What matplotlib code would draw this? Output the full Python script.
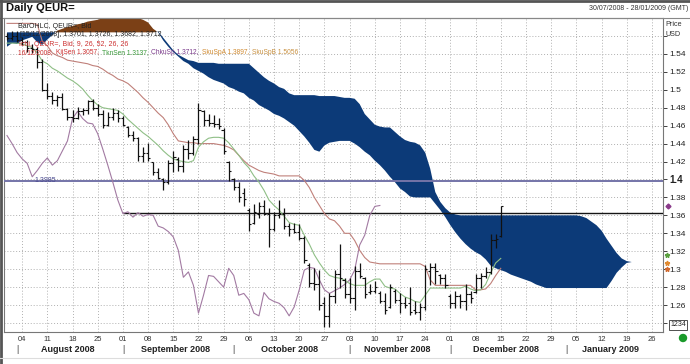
import numpy as np
import pandas as pd
import matplotlib
matplotlib.use("Agg")
import matplotlib.pyplot as plt
from matplotlib.lines import Line2D
from matplotlib.patches import Ellipse

plt.rcParams['font.family'] = ['Liberation Sans', 'DejaVu Sans']

# ---------------- data ----------------
dates = pd.bdate_range('2008-07-30', periods=135)

opens = [1.560, 1.558, 1.560, 1.555, 1.553, 1.547, 1.546, 1.531, 1.500, 1.493,
         1.489, 1.492, 1.479, 1.470, 1.468, 1.476, 1.477, 1.487, 1.480, 1.473,
         1.461, 1.470, 1.474, 1.468, 1.459, 1.450, 1.446, 1.426, 1.430, 1.419,
         1.408, 1.400, 1.397, 1.418, 1.423, 1.415, 1.434, 1.430, 1.445, 1.476,
         1.466, 1.463, 1.462, 1.455, 1.420, 1.400, 1.392, 1.385, 1.366, 1.352,
         1.362, 1.370, 1.362, 1.345, 1.360, 1.362, 1.348, 1.345, 1.342, 1.335,
         1.305, 1.285, 1.283, 1.262, 1.248, 1.270, 1.295, 1.288, 1.272, 1.268,
         1.298, 1.290, 1.275, 1.276, 1.274, 1.265, 1.258, 1.276, 1.266, 1.262,
         1.262, 1.255, 1.252, 1.258, 1.298, 1.302, 1.293, 1.290, 1.270, 1.262,
         1.270, 1.265, 1.272, 1.275, 1.290, 1.292, 1.297, 1.332, 1.337]
highs = [1.563, 1.566, 1.565, 1.559, 1.556, 1.551, 1.548, 1.534, 1.507, 1.497,
         1.494, 1.496, 1.480, 1.478, 1.481, 1.480, 1.489, 1.490, 1.484, 1.477,
         1.475, 1.480, 1.478, 1.471, 1.460, 1.454, 1.447, 1.436, 1.441, 1.420,
         1.413, 1.402, 1.422, 1.432, 1.425, 1.438, 1.444, 1.448, 1.485, 1.478,
         1.473, 1.472, 1.468, 1.457, 1.421, 1.402, 1.397, 1.390, 1.368, 1.373,
         1.375, 1.377, 1.368, 1.364, 1.377, 1.368, 1.351, 1.351, 1.350, 1.337,
         1.307, 1.301, 1.299, 1.269, 1.273, 1.299, 1.328, 1.290, 1.290, 1.304,
         1.307, 1.291, 1.283, 1.287, 1.276, 1.273, 1.284, 1.278, 1.273, 1.269,
         1.280, 1.265, 1.262, 1.305, 1.307, 1.307, 1.295, 1.295, 1.272, 1.276,
         1.272, 1.284, 1.276, 1.295, 1.296, 1.302, 1.339, 1.339, 1.371]
lows = [1.555, 1.555, 1.553, 1.550, 1.542, 1.541, 1.524, 1.499, 1.490, 1.484,
        1.482, 1.477, 1.466, 1.464, 1.467, 1.472, 1.473, 1.478, 1.471, 1.457,
        1.460, 1.466, 1.464, 1.460, 1.447, 1.443, 1.421, 1.420, 1.421, 1.405,
        1.400, 1.388, 1.395, 1.408, 1.410, 1.408, 1.423, 1.427, 1.440, 1.460,
        1.460, 1.458, 1.456, 1.428, 1.398, 1.388, 1.375, 1.371, 1.343, 1.350,
        1.357, 1.360, 1.325, 1.343, 1.357, 1.345, 1.337, 1.340, 1.332, 1.307,
        1.280, 1.277, 1.254, 1.236, 1.236, 1.262, 1.279, 1.268, 1.262, 1.254,
        1.290, 1.268, 1.272, 1.273, 1.262, 1.250, 1.257, 1.262, 1.251, 1.257,
        1.249, 1.250, 1.243, 1.255, 1.282, 1.284, 1.284, 1.279, 1.257, 1.257,
        1.257, 1.254, 1.262, 1.273, 1.279, 1.290, 1.295, 1.324, 1.336]
closes = [1.558, 1.560, 1.555, 1.553, 1.547, 1.546, 1.531, 1.500, 1.493, 1.489,
          1.492, 1.479, 1.470, 1.468, 1.476, 1.477, 1.487, 1.480, 1.473, 1.461,
          1.470, 1.474, 1.468, 1.461, 1.450, 1.446, 1.426, 1.430, 1.424, 1.408,
          1.402, 1.397, 1.418, 1.425, 1.415, 1.434, 1.430, 1.445, 1.478, 1.466,
          1.463, 1.462, 1.460, 1.432, 1.409, 1.392, 1.380, 1.378, 1.350, 1.364,
          1.370, 1.362, 1.345, 1.360, 1.362, 1.348, 1.345, 1.342, 1.335, 1.310,
          1.285, 1.283, 1.260, 1.248, 1.270, 1.295, 1.290, 1.272, 1.268, 1.298,
          1.292, 1.272, 1.276, 1.280, 1.265, 1.255, 1.280, 1.266, 1.262, 1.260,
          1.252, 1.252, 1.258, 1.300, 1.302, 1.298, 1.290, 1.282, 1.262, 1.270,
          1.265, 1.272, 1.268, 1.290, 1.292, 1.297, 1.332, 1.334, 1.370]

tenkan = [1.552, 1.552, 1.552, 1.551, 1.549, 1.547, 1.541, 1.532, 1.529, 1.524,
          1.521, 1.517, 1.513, 1.510, 1.506, 1.501, 1.494, 1.488, 1.483, 1.480,
          1.479, 1.478, 1.477, 1.473, 1.467, 1.462, 1.457, 1.452, 1.448, 1.443,
          1.438, 1.432, 1.427, 1.423, 1.421, 1.420, 1.419, 1.421, 1.436, 1.442,
          1.446, 1.447, 1.447, 1.446, 1.441, 1.434, 1.427, 1.419, 1.413, 1.404,
          1.397, 1.388, 1.377, 1.371, 1.366, 1.359, 1.352, 1.350, 1.349, 1.338,
          1.328, 1.316, 1.307, 1.299, 1.293, 1.291, 1.290, 1.288, 1.284, 1.282,
          1.282, 1.282, 1.286, 1.289, 1.289, 1.281, 1.279, 1.278, 1.273, 1.269,
          1.267, 1.264, 1.263, 1.271, 1.279, 1.279, 1.279, 1.279, 1.279, 1.279,
          1.279, 1.281, 1.278, 1.276, 1.277, 1.283, 1.296, 1.307, 1.312]

kijun = [1.574, 1.574, 1.574, 1.574, 1.574, 1.574, 1.573, 1.554, 1.549, 1.541,
         1.538, 1.536, 1.533, 1.532, 1.531, 1.530, 1.529, 1.527, 1.526, 1.523,
         1.519, 1.516, 1.512, 1.510, 1.507, 1.502, 1.497, 1.491, 1.486, 1.480,
         1.474, 1.469, 1.461, 1.451, 1.443, 1.442, 1.441, 1.441, 1.440, 1.440,
         1.440, 1.440, 1.439, 1.438, 1.436, 1.433, 1.427, 1.421, 1.416, 1.413,
         1.410, 1.408, 1.407, 1.406, 1.404, 1.404, 1.404, 1.404, 1.404, 1.399,
         1.391, 1.380, 1.371, 1.362, 1.356, 1.354, 1.348, 1.340, 1.340, 1.332,
         1.321, 1.313, 1.308, 1.307, 1.306, 1.306, 1.306, 1.306, 1.306, 1.306,
         1.306, 1.306, 1.306, 1.303, 1.288, 1.282, 1.282, 1.282, 1.282, 1.282,
         1.282, 1.282, 1.282, 1.277, 1.277, 1.278, 1.284, 1.293, 1.301]

chikou = [1.449, 1.440, 1.430, 1.423, 1.418, 1.403, 1.410, 1.418, 1.424, 1.416,
          1.421, 1.432, 1.443, 1.468, 1.476, 1.468, 1.463, 1.462, 1.451, 1.434,
          1.416, 1.397, 1.377, 1.362, 1.364, 1.358, 1.363, 1.359, 1.361, 1.360,
          1.348, 1.346, 1.342, 1.336, 1.321, 1.291, 1.297, 1.282, 1.251, 1.271,
          1.293, 1.292, 1.286, 1.280, 1.301, 1.293, 1.271, 1.273, 1.266, 1.251,
          1.248, 1.274, 1.267, 1.264, 1.262, 1.257, 1.248, 1.258, 1.277, 1.299,
          1.302, 1.301, 1.288, 1.277, 1.273, 1.276, 1.279, 1.283, 1.288, 1.299,
          1.327, 1.338, 1.360, 1.370, 1.371]

senkou_a = [1.548, 1.552, 1.551, 1.555, 1.557, 1.559, 1.553, 1.550, 1.556, 1.561,
            1.566, 1.568, 1.570, 1.571, 1.573, 1.574, 1.576, 1.577, 1.578, 1.580,
            1.581, 1.582, 1.582, 1.582, 1.582, 1.581, 1.580, 1.578, 1.575, 1.568,
            1.564, 1.555, 1.548, 1.542, 1.537, 1.532, 1.529, 1.524, 1.521, 1.518,
            1.514, 1.511, 1.509, 1.507, 1.503, 1.501, 1.498, 1.496, 1.491, 1.488,
            1.483, 1.480, 1.477, 1.473, 1.471, 1.468, 1.464, 1.460, 1.454, 1.448,
            1.441, 1.433, 1.431, 1.438, 1.441, 1.442, 1.443, 1.443, 1.443, 1.440,
            1.436, 1.431, 1.427, 1.421, 1.416, 1.410, 1.403, 1.397, 1.390, 1.386,
            1.381, 1.380, 1.380, 1.380, 1.380, 1.373, 1.366, 1.358, 1.349, 1.341,
            1.334, 1.328, 1.323, 1.319, 1.316, 1.311, 1.304, 1.301, 1.299, 1.297,
            1.294, 1.292, 1.290, 1.288, 1.286, 1.283, 1.281, 1.279, 1.279, 1.279,
            1.279, 1.279, 1.279, 1.279, 1.279, 1.279, 1.279, 1.279, 1.279, 1.279,
            1.287, 1.296, 1.302, 1.307, 1.308]
senkou_b = [1.564, 1.564, 1.564, 1.564, 1.564, 1.564, 1.564, 1.564, 1.564, 1.564,
            1.564, 1.564, 1.564, 1.564, 1.564, 1.564, 1.564, 1.564, 1.564, 1.564,
            1.564, 1.564, 1.564, 1.564, 1.564, 1.564, 1.564, 1.564, 1.564, 1.564,
            1.565, 1.558, 1.551, 1.544, 1.539, 1.536, 1.533, 1.532, 1.530, 1.530,
            1.530, 1.530, 1.529, 1.529, 1.529, 1.529, 1.529, 1.529, 1.529, 1.524,
            1.519, 1.514, 1.510, 1.507, 1.503, 1.501, 1.496, 1.494, 1.494, 1.494,
            1.494, 1.494, 1.493, 1.493, 1.493, 1.493, 1.492, 1.491, 1.491, 1.490,
            1.484, 1.473, 1.467, 1.461, 1.459, 1.458, 1.458, 1.453, 1.448, 1.444,
            1.442, 1.441, 1.438, 1.430, 1.412, 1.386, 1.375, 1.368, 1.363, 1.361,
            1.360, 1.360, 1.360, 1.360, 1.360, 1.360, 1.360, 1.360, 1.360, 1.360,
            1.360, 1.360, 1.360, 1.360, 1.360, 1.360, 1.360, 1.360, 1.360, 1.360,
            1.360, 1.360, 1.360, 1.360, 1.359, 1.357, 1.353, 1.349, 1.343, 1.334,
            1.326, 1.318, 1.312, 1.309, 1.308]

hline_blue = 1.3985
hline_black = 1.3622
hline_black_start = 23
month_names = ["August 2008", "September 2008", "October 2008",
               "November 2008", "December 2008", "January 2009"]

# ---------------- figure ----------------
W, H = 690, 364
fig = plt.figure(figsize=(W / 100, H / 100), dpi=100)
fig.patch.set_facecolor('white')

def fx(px):
    return px / W

def fy(py):
    return 1 - py / H

ax = fig.add_axes([fx(4), (H - 332) / H, (663 - 4) / W, (332 - 18) / H])
XMAX = 130.2
ax.set_xlim(-0.6, XMAX)
ax.set_ylim(1.230, 1.579)

# grid / ticks
yt = np.round(np.arange(1.24, 1.581, 0.02), 2)
ax.set_yticks(yt)
ax.set_yticklabels([("%g" % v) if 1.25 < v < 1.55 else "" for v in yt])
ax.yaxis.tick_right()
ax.tick_params(axis='y', labelsize=6, length=3, pad=1.5, colors='#222222', width=0.6)
for lab, v in zip(ax.get_yticklabels(), yt):
    if abs(v - 1.40) < 1e-6:
        lab.set_fontweight('bold')
        lab.set_fontsize(7)

idx = np.arange(len(dates))
mondays = [i for i in idx if dates[i].weekday() == 0 and i < XMAX]
ax.set_xticks(mondays)
ax.set_xticklabels([dates[i].strftime('%d') for i in mondays])
ax.tick_params(axis='x', labelsize=5.5, length=0, pad=3, colors='#333333')

ax.grid(True, linestyle=(0, (1, 2)), color='#b0b0b0', linewidth=0.7, zorder=0)
for s in ax.spines.values():
    s.set_color('#777777')
    s.set_linewidth(0.8)

# month labels (first trading day of each month within the window)
starts = [i for i in idx if i > 0 and dates[i].month != dates[i - 1].month and i < XMAX]
xt = ax.get_xaxis_transform()
for k, name in enumerate(month_names):
    a = starts[k]
    b = starts[k + 1] - 1 if k + 1 < len(starts) else XMAX - 1.5
    ax.text((a + b) / 2, -0.055, name, transform=xt, ha='center', va='center',
            fontsize=6.5, fontweight='bold', color='#222222', clip_on=False)
for i in starts:
    ax.text(i, -0.055, '|', transform=xt, ha='center', va='center',
            fontsize=6.5, color='#444444', clip_on=False)

# cloud
xc = np.arange(len(senkou_a))
sa = np.array(senkou_a)
sb = np.array(senkou_b)
ax.fill_between(xc, sa, sb, where=sa >= sb, interpolate=True,
                color='#7b4016', lw=0, zorder=2)
ax.fill_between(xc, sa, sb, where=sa < sb, interpolate=True,
                color='#0c3a78', lw=0, zorder=2)

# horizontal lines
ax.axhline(hline_blue, color='#7474a8', lw=1.4, zorder=3)
ax.hlines(hline_black, hline_black_start, XMAX, color='#151515', lw=1.0, zorder=4)
ax.text(5.5, hline_blue, '1.3985', fontsize=5, color='#4a4a90',
        ha='left', va='center', zorder=5)

# ichimoku lines
xb = np.arange(len(closes))
ax.plot(np.arange(len(chikou)), chikou, color='#a27aa2', lw=0.8, zorder=5)
ax.plot(xb, kijun, color='#c0807a', lw=0.8, zorder=5)
ax.plot(xb, tenkan, color='#8fbf86', lw=0.8, zorder=5)

# OHLC bars
ax.vlines(xb, lows, highs, color='#111111', lw=0.9, zorder=6)
ax.hlines(opens, xb - 0.45, xb, color='#111111', lw=0.8, zorder=6)
ax.hlines(closes, xb, xb + 0.45, color='#111111', lw=0.8, zorder=6)

# right-edge markers
ax.plot([131.2], [chikou[-1]], marker='D', ms=2.5, color='#8a3a8a', clip_on=False, zorder=7)
ax.plot([131.0], [tenkan[-1] + 0.004], marker='*', ms=3.5, color='#5aa040', clip_on=False, zorder=7)
ax.plot([131.0], [kijun[-1] + 0.006], marker='*', ms=3.5, color='#e08a30', clip_on=False, zorder=7)
ax.plot([131.0], [kijun[-1] - 0.001], marker='*', ms=3.5, color='#d06a30', clip_on=False, zorder=7)

# legend text
fs = 5.0
fig.text(fx(18), fy(26), 'BarOHLC, QEUR=, Bid', fontsize=fs, color='#222222', va='center')
fig.text(fx(20), fy(35), '[15/12/2008], 1.3701, 1.3726, 1.3682, 1.3712', fontsize=fs,
         color='#222222', va='center')
fig.text(fx(19), fy(44), 'Ichi, QEUR=, Bid, 9, 26, 52, 26, 26', fontsize=fs,
         color='#cc3030', va='center')
segs = [('16/12/2008, ', '#cc3030'), ('KijSen 1.3057, ', '#cc3030'),
        ('TknSen 1.3137, ', '#3a9a3a'), ('ChkuSp 1.3712, ', '#7a3a8a'),
        ('SkuSpA 1.3897, ', '#d08a30'), ('SkuSpB 1.5056', '#c89040')]
renderer = fig.canvas.get_renderer()
xpos = 18.0
for t, c in segs:
    txt = fig.text(fx(xpos), fy(53), t, fontsize=4.8, color=c, va='center')
    bb = txt.get_window_extent(renderer=renderer)
    xpos += bb.width + 1.0

# header
fig.text(fx(6), fy(8), 'Daily QEUR=', fontsize=8, fontweight='bold', color='#111111', va='center')
fig.text(fx(688), fy(9), '30/07/2008 - 28/01/2009 (GMT)', fontsize=5, color='#333333',
         ha='right', va='center')
fig.text(fx(665), fy(24), 'Price', fontsize=5.2, color='#333333', va='center')
fig.text(fx(665), fy(34), 'USD', fontsize=5.2, color='#333333', va='center')

# frame lines
fig.add_artist(Line2D([0, 1], [fy(18), fy(18)], color='#888888', lw=0.8))
fig.add_artist(Line2D([0, 1], [fy(0.5), fy(0.5)], color='#555555', lw=2))
fig.add_artist(Line2D([fx(0.5), fx(0.5)], [0, 1], color='#555555', lw=2))
fig.add_artist(Line2D([0, 1], [fy(358), fy(358)], color='#dddddd', lw=0.8))

# bottom-right widgets
fig.text(fx(678), fy(325), '1234', fontsize=5, color='#222222', ha='center', va='center',
         bbox=dict(boxstyle='square,pad=0.15', fc='white', ec='#333333', lw=0.6))
fig.add_artist(Ellipse((fx(683), fy(338)), 7 / W, 7 / H, color='#1a9a2a'))

fig.savefig('out.png', dpi=100)
